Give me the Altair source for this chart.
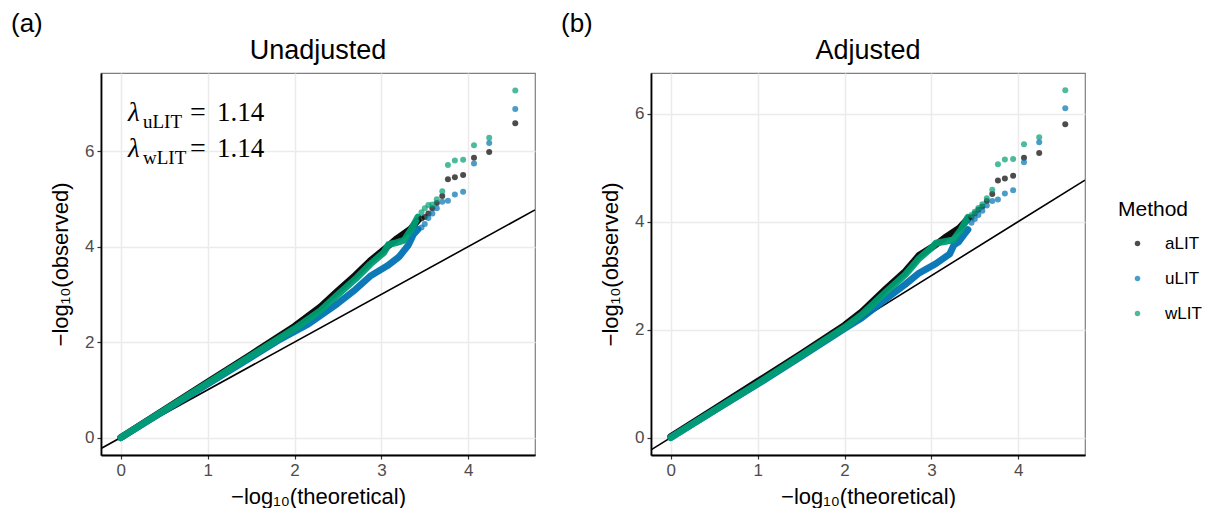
import altair as alt
import pandas as pd

# ---------------------------------------------------------------------------
# Q-Q plot values: -log10(theoretical) vs -log10(observed) p-values
# ---------------------------------------------------------------------------
METHODS = ["aLIT", "uLIT", "wLIT"]
COLORS = ["#000000", "#0072B2", "#009E73"]

# Dense part of each curve (thousands of overlapping points), traced as a path
A_BODY_X_ALIT = [0.0, 0.5, 1.0, 1.5, 2.0, 2.3, 2.49, 2.7, 2.87, 3.05, 3.18, 3.33, 3.42]
A_BODY_Y_ALIT = [0.0, 0.58, 1.16, 1.74, 2.33, 2.74, 3.06, 3.40, 3.70, 3.97, 4.17, 4.36, 4.55]
A_BODY_X_ULIT = [0.0, 0.5, 1.0, 1.5, 1.8, 2.0, 2.16, 2.49, 2.7, 2.87, 3.07, 3.20, 3.28, 3.31, 3.37, 3.42]
A_BODY_Y_ULIT = [0.0, 0.56, 1.12, 1.68, 2.02, 2.22, 2.38, 2.80, 3.10, 3.38, 3.60, 3.78, 3.96, 4.03, 4.26, 4.36]
A_BODY_X_WLIT = [0.0, 0.5, 1.0, 1.5, 2.0, 2.3, 2.49, 2.7, 2.87, 3.03, 3.08, 3.17, 3.26, 3.34, 3.42]
A_BODY_Y_WLIT = [0.0, 0.57, 1.14, 1.71, 2.28, 2.66, 2.98, 3.32, 3.63, 3.88, 4.04, 4.08, 4.13, 4.35, 4.62]

B_BODY_X_ALIT = [0.0, 0.5, 1.0, 1.5, 2.0, 2.2, 2.48, 2.7, 2.86, 3.04, 3.17, 3.32, 3.42]
B_BODY_Y_ALIT = [0.02, 0.53, 1.04, 1.55, 2.08, 2.33, 2.76, 3.08, 3.38, 3.56, 3.72, 3.88, 4.05]
B_BODY_X_ULIT = [0.0, 0.5, 1.0, 1.5, 2.0, 2.2, 2.48, 2.7, 2.86, 3.05, 3.21, 3.26, 3.31, 3.37, 3.42]
B_BODY_Y_ULIT = [0.0, 0.50, 0.99, 1.50, 2.02, 2.22, 2.57, 2.84, 3.05, 3.22, 3.40, 3.57, 3.62, 3.75, 3.85]
B_BODY_X_WLIT = [0.0, 0.5, 1.0, 1.5, 2.0, 2.2, 2.48, 2.7, 2.86, 3.02, 3.05, 3.15, 3.25, 3.34, 3.42]
B_BODY_Y_WLIT = [0.0, 0.50, 1.00, 1.52, 2.04, 2.28, 2.70, 3.02, 3.32, 3.54, 3.60, 3.63, 3.66, 3.85, 4.08]

# The twelve most extreme tests (shown as separate points)
TAIL_X = [4.54, 4.24, 4.065, 3.94, 3.845, 3.765, 3.70, 3.637, 3.586, 3.540, 3.499, 3.461]
A_TAIL_ALIT = [6.58, 5.98, 5.86, 5.50, 5.45, 5.41, 5.06, 4.91, 4.80, 4.69, 4.62, 4.59]
A_TAIL_ULIT = [6.88, 6.17, 5.74, 5.15, 5.09, 4.96, 4.94, 4.80, 4.69, 4.60, 4.47, 4.40]
A_TAIL_WLIT = [7.27, 6.28, 6.12, 5.82, 5.80, 5.71, 5.16, 4.99, 4.88, 4.87, 4.80, 4.72]
B_TAIL_ALIT = [5.80, 5.27, 5.18, 4.85, 4.80, 4.76, 4.51, 4.38, 4.28, 4.22, 4.15, 4.08]
B_TAIL_ULIT = [6.10, 5.47, 5.10, 4.58, 4.52, 4.41, 4.38, 4.30, 4.20, 4.12, 4.05, 3.98]
B_TAIL_WLIT = [6.43, 5.56, 5.43, 5.16, 5.15, 5.06, 4.59, 4.43, 4.32, 4.25, 4.18, 4.12]

# Genomic inflation factors
LAMBDA_ULIT = "1.14"
LAMBDA_WLIT = "1.14"

X_DOMAIN = [-0.227, 4.767]
A_Y_DOMAIN = [-0.364, 7.634]
B_Y_DOMAIN = [-0.321, 6.751]

X_TICKS = [0, 1, 2, 3, 4]
Y_TICKS = [0, 2, 4, 6]

PLOT_W, PLOT_H = 434, 382
SANS = "Liberation Sans"
SERIF = "Liberation Serif"

LEGEND = alt.Legend(
    title="Method",
    orient="none",
    legendX=1017,
    legendY=126,
    titleFont=SANS,
    titleFontSize=21,
    titleFontWeight="normal",
    titleColor="black",
    titlePadding=15,
    labelFont=SANS,
    labelFontSize=17,
    labelColor="black",
    labelOffset=19,
    symbolType="circle",
    symbolSize=30,
    symbolOpacity=0.7,
    symbolStrokeWidth=0,
    symbolOffset=11,
    rowPadding=17,
    padding=0,
)


def body_frame(curves):
    rows = []
    for method, (xs, ys) in zip(METHODS, curves):
        for i, (x, y) in enumerate(zip(xs, ys)):
            rows.append({"method": method, "x": x, "y": y, "idx": i})
    return pd.DataFrame(rows)


def tail_frame(tails):
    rows = []
    for method, ys in zip(METHODS, tails):
        for x, y in zip(TAIL_X, ys):
            rows.append({"method": method, "x": x, "y": y})
    return pd.DataFrame(rows)


def one_text(txt, px, py, size, font=SANS, style="normal", baseline="alphabetic", align="left"):
    return alt.Chart(pd.DataFrame({"t": [txt]})).mark_text(
        font=font, fontSize=size, fontStyle=style, baseline=baseline, align=align, color="black"
    ).encode(text="t:N", x=alt.value(px), y=alt.value(py))


def panel(body_df, tail_df, y_domain, title, tag, extra=None):
    xenc = alt.X(
        "x:Q",
        scale=alt.Scale(domain=X_DOMAIN, nice=False, zero=False),
        axis=alt.Axis(values=X_TICKS, title="−log₁₀(theoretical)", titlePadding=8),
    )
    yenc = alt.Y(
        "y:Q",
        scale=alt.Scale(domain=y_domain, nice=False, zero=False),
        axis=alt.Axis(values=Y_TICKS, title="−log₁₀(observed)", titlePadding=12),
    )
    color = alt.Color("method:N", scale=alt.Scale(domain=METHODS, range=COLORS), legend=LEGEND)

    ref_df = pd.DataFrame({"x": X_DOMAIN, "y": X_DOMAIN})
    ref = alt.Chart(ref_df).mark_line(color="black", strokeWidth=1.6, clip=True).encode(x=xenc, y=yenc)

    body = alt.Chart(body_df).mark_line(
        strokeWidth=6.8, strokeCap="round", strokeJoin="round", opacity=0.95, clip=True
    ).encode(x=xenc, y=yenc, color=color, order="idx:Q")

    pts = alt.Chart(tail_df).mark_circle(size=36, opacity=0.7).encode(x=xenc, y=yenc, color=color)

    layers = [
        ref,
        body,
        pts,
        one_text(tag, -90, -49, 26, baseline="middle"),
        one_text(title, PLOT_W / 2, -22, 27, baseline="middle", align="center"),
    ]
    if extra:
        layers += extra
    return alt.layer(*layers).properties(width=PLOT_W, height=PLOT_H)


lambda_text = [
    one_text("λ", 27, 48, 27, font=SERIF, style="italic"),
    one_text("uLIT", 42, 55, 19, font=SERIF),
    one_text("=", 89, 48, 28, font=SERIF),
    one_text(LAMBDA_ULIT, 116, 48, 27, font=SERIF),
    one_text("λ", 27, 84, 27, font=SERIF, style="italic"),
    one_text("wLIT", 42, 91, 19, font=SERIF),
    one_text("=", 89, 84, 28, font=SERIF),
    one_text(LAMBDA_WLIT, 116, 84, 27, font=SERIF),
]

panel_a = panel(
    body_frame([(A_BODY_X_ALIT, A_BODY_Y_ALIT), (A_BODY_X_ULIT, A_BODY_Y_ULIT), (A_BODY_X_WLIT, A_BODY_Y_WLIT)]),
    tail_frame([A_TAIL_ALIT, A_TAIL_ULIT, A_TAIL_WLIT]),
    A_Y_DOMAIN,
    "Unadjusted",
    "(a)",
    lambda_text,
)
panel_b = panel(
    body_frame([(B_BODY_X_ALIT, B_BODY_Y_ALIT), (B_BODY_X_ULIT, B_BODY_Y_ULIT), (B_BODY_X_WLIT, B_BODY_Y_WLIT)]),
    tail_frame([B_TAIL_ALIT, B_TAIL_ULIT, B_TAIL_WLIT]),
    B_Y_DOMAIN,
    "Adjusted",
    "(b)",
)

chart = (
    alt.hconcat(panel_a, panel_b, spacing=24)
    .properties(padding={"left": 10, "top": 10, "right": 0, "bottom": 0}, background="white")
    .configure_view(stroke="#7f7f7f", strokeWidth=1.2)
    .configure_axis(
        domainColor="black",
        domainWidth=1.8,
        gridColor="#ebebeb",
        gridWidth=1.5,
        tickColor="#333333",
        tickSize=4,
        tickWidth=1.2,
        labelColor="#4d4d4d",
        labelFont=SANS,
        labelFontSize=17,
        labelPadding=3,
        titleFont=SANS,
        titleFontSize=22,
        titleFontWeight="normal",
        titleColor="black",
    )
)

chart.save("out.html", embed_options={"renderer": "svg", "actions": False})
